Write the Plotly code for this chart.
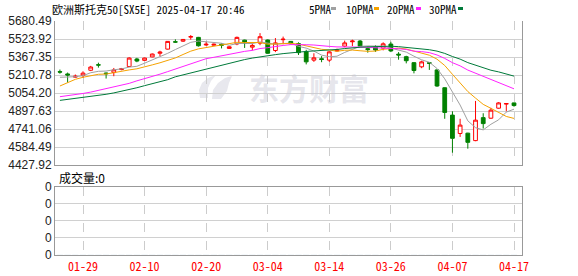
import plotly.graph_objects as go

dates = ["01-24","01-27","01-28","01-29","01-30","01-31","02-03","02-04","02-05","02-06",
         "02-07","02-10","02-11","02-12","02-13","02-14","02-17","02-18","02-19","02-20",
         "02-21","02-24","02-25","02-26","02-27","02-28","03-03","03-04","03-05","03-06",
         "03-07","03-10","03-11","03-12","03-13","03-14","03-17","03-18","03-19","03-20",
         "03-21","03-24","03-25","03-26","03-27","03-28","03-31","04-01","04-02","04-03",
         "04-04","04-07","04-08","04-09","04-10","04-11","04-14","04-15","04-16","04-17"]

opens = [5240,5220,5192,5207,5252,5300,5228,5232,5258,5285,
         5350,5338,5368,5400,5436,5500,5505,5540,5538,5472,
         5470,5478,5442,5481,5514,5453,5488,5515,5424,5518,
         5503,5484,5413,5340,5352,5340,5420,5462,5500,5506,
         5440,5455,5445,5480,5392,5370,5318,5282,5318,5255,
         5100,4862,4702,4705,4640,4840,4835,4922,4958,4968]
highs = [5258,5232,5215,5243,5290,5318,5232,5272,5272,5365,
         5360,5362,5398,5422,5506,5521,5524,5558,5542,5500,
         5484,5485,5460,5545,5518,5485,5575,5520,5532,5545,
         5506,5495,5430,5400,5375,5418,5440,5510,5518,5515,
         5460,5470,5495,5500,5410,5378,5322,5335,5320,5260,
         5102,4895,4830,4708,4985,4878,4925,4975,4965,4970]
lows = [5222,5145,5188,5185,5245,5275,5180,5200,5252,5280,
        5322,5335,5365,5375,5432,5492,5498,5518,5458,5465,
        5466,5442,5437,5470,5446,5425,5470,5395,5410,5478,
        5478,5385,5303,5325,5322,5325,5415,5452,5462,5455,
        5405,5412,5425,5410,5344,5312,5225,5270,5255,5108,
        4830,4535,4672,4570,4635,4745,4830,4918,4895,4935]
closes = [5236,5210,5200,5227,5280,5297,5222,5255,5265,5358,
          5332,5358,5393,5410,5503,5497,5520,5545,5465,5478,
          5478,5470,5456,5538,5488,5468,5544,5400,5490,5522,
          5482,5405,5325,5360,5346,5412,5428,5490,5506,5462,
          5432,5428,5482,5420,5385,5335,5250,5325,5312,5115,
          4885,4660,4775,4625,4818,4788,4905,4968,4962,4945]
volumes = [0] * len(dates)

# moving-average values for days whose window starts before the visible range
ma5_head = [5191, 5193, 5196, 5205]
ma10_head = [5115, 5144, 5173, 5191, 5205, 5217, 5219, 5231, 5248]
ma20_head = [5022, 5030, 5040, 5050, 5062, 5078, 5090, 5105, 5120, 5138,
             5160, 5178, 5198, 5218, 5240, 5262, 5285, 5305, 5325]
ma30_head = [4990, 4998, 5006, 5014, 5022, 5032, 5043, 5055, 5068, 5085,
             5100, 5118, 5135, 5150, 5170, 5195, 5212, 5230, 5245, 5260,
             5280, 5295, 5310, 5330, 5345, 5358, 5370, 5378, 5388]

tick_labels = ["01-29","02-10","02-20","03-04","03-14","03-26","04-07","04-17"]
y_ticks = [4427.92, 4584.49, 4741.06, 4897.63, 5054.20, 5210.78, 5367.35, 5523.92, 5680.49]


def moving_avg(n, head):
    out = []
    for i in range(len(closes)):
        if i >= n - 1:
            out.append(sum(closes[i - n + 1:i + 1]) / n)
        else:
            out.append(head[i])
    return out


idx = list(range(len(dates)))
ma_specs = [("5PMA", 5, ma5_head, "#a0a0a0"),
            ("10PMA", 10, ma10_head, "#f5a200"),
            ("20PMA", 20, ma20_head, "#ff22ff"),
            ("30PMA", 30, ma30_head, "#007a3a")]

MONO = "Noto Sans Mono CJK SC, Noto Sans CJK SC, Liberation Mono, monospace"

fig = go.Figure()
for name, n, head, col in ma_specs:
    fig.add_trace(go.Scatter(x=idx, y=moving_avg(n, head), mode="lines", name=name,
                             line=dict(color=col, width=1), xaxis="x", yaxis="y",
                             hoverinfo="skip"))

fig.add_trace(go.Candlestick(
    x=idx, open=opens, high=highs, low=lows, close=closes,
    increasing=dict(line=dict(color="#ff0000", width=1), fillcolor="#ffffff"),
    decreasing=dict(line=dict(color="#008000", width=1), fillcolor="#008000"),
    whiskerwidth=0, xaxis="x", yaxis="y", name="K"))

fig.add_trace(go.Bar(x=idx, y=volumes, xaxis="x2", yaxis="y2",
                     marker_color="#ff0000", name="vol"))

W, H = 578, 276
L, R, T, B = 55, 56, 21, 21
pw, ph = W - L - R, H - T - B


def px(x):
    return (x - L) / pw


def py(y):
    return (H - B - y) / ph


tickvals = [dates.index(t) for t in tick_labels]
xr = [-0.64, 60.04]

fig.update_layout(
    width=W, height=H, margin=dict(l=L, r=R, t=T, b=B, autoexpand=False),
    paper_bgcolor="white", plot_bgcolor="white", showlegend=False,
    font=dict(family="Liberation Sans, Arial, sans-serif", size=12, color="#222"),
    xaxis=dict(domain=[0, 1], anchor="y", range=xr, tickvals=tickvals, showticklabels=False,
               showgrid=True, gridcolor="#cccccc", griddash="dash", gridwidth=1,
               showline=True, linecolor="#999999", linewidth=1, mirror=False,
               rangeslider=dict(visible=False), zeroline=False, ticks="", automargin=False),
    yaxis=dict(domain=[py(165), py(21)], anchor="x", range=[y_ticks[0], y_ticks[-1]],
               tickvals=y_ticks, ticktext=[f"{v:.2f}" for v in y_ticks],
               showgrid=True, gridcolor="#d0d0d0", gridwidth=1,
               showline=True, linecolor="#999999", linewidth=1, mirror=True,
               zeroline=False, ticks="", automargin=False,
               tickfont=dict(size=12, color="#222")),
    xaxis2=dict(domain=[0, 1], anchor="y2", range=xr, tickvals=tickvals, ticktext=tick_labels,
                showgrid=True, gridcolor="#cccccc", griddash="dash", gridwidth=1,
                showline=True, linecolor="#999999", linewidth=1, mirror=True,
                zeroline=False, ticks="", ticklabelstandoff=1, automargin=False,
                tickfont=dict(family=MONO, size=12, color="#ff0000")),
    yaxis2=dict(domain=[0, py(186.7)], anchor="x2", range=[0, 4], tickvals=[0, 1, 2, 3, 4],
                ticktext=["0", "0", "0", "0", "0"], showgrid=True, gridcolor="#d0d0d0",
                showline=True, linecolor="#999999", linewidth=1, mirror=True,
                zeroline=False, ticks="", automargin=False,
                tickfont=dict(size=12, color="#222")),
)

ann = []
ann.append(dict(text="欧洲斯托克50[SX5E] 2025-04-17 20:46", x=px(50), y=py(9.5),
                xref="paper", yref="paper", xanchor="left", yanchor="middle", showarrow=False,
                font=dict(family=MONO, size=11, color="#000")))
ann.append(dict(text="成交量:0", x=px(57), y=py(177.5), xref="paper", yref="paper",
                xanchor="left", yanchor="middle", showarrow=False,
                font=dict(family="Noto Sans CJK SC", size=12, color="#000")))
ann.append(dict(text="<b>东方财富</b>", x=px(309), y=py(87), xref="paper", yref="paper",
                xanchor="center", yanchor="middle", showarrow=False,
                font=dict(family="Noto Sans CJK SC", size=30, color="rgba(200,200,212,0.45)")))

leg_text_x = [307, 344, 385, 427]
leg_sw_x = [330, 373, 415, 457]
shapes = []
for (name, n, head, col), tx, sx in zip(ma_specs, leg_text_x, leg_sw_x):
    ann.append(dict(text=name, x=px(tx), y=py(9.5), xref="paper", yref="paper",
                    xanchor="left", yanchor="middle", showarrow=False,
                    font=dict(family=MONO, size=11, color="#000")))
    shapes.append(dict(type="rect", xref="paper", yref="paper", x0=px(sx + 1), x1=px(sx + 6),
                       y0=py(10), y1=py(7), fillcolor=col, line=dict(width=0)))


def path(points):
    segs = []
    for k, (a, b) in enumerate(points):
        segs.append(("M" if k == 0 else "L") + f"{px(a):.5f},{py(b):.5f}")
    return " ".join(segs) + " Z"


# watermark logo (stylised swoosh)
logo_left = [(200, 98), (199, 90), (202, 83), (208, 78), (216, 75), (211, 81), (208, 88), (208, 98)]
logo_right = [(212, 99), (213, 90), (218, 83), (225, 78), (232, 76), (229, 83), (227, 91), (221, 99)]
for pts in (logo_left, logo_right):
    shapes.append(dict(type="path", xref="paper", yref="paper", path=path(pts),
                       fillcolor="#e8e8ee", line=dict(width=0), layer="below"))

fig.update_layout(annotations=ann, shapes=shapes)
fig.write_html("out.html")
